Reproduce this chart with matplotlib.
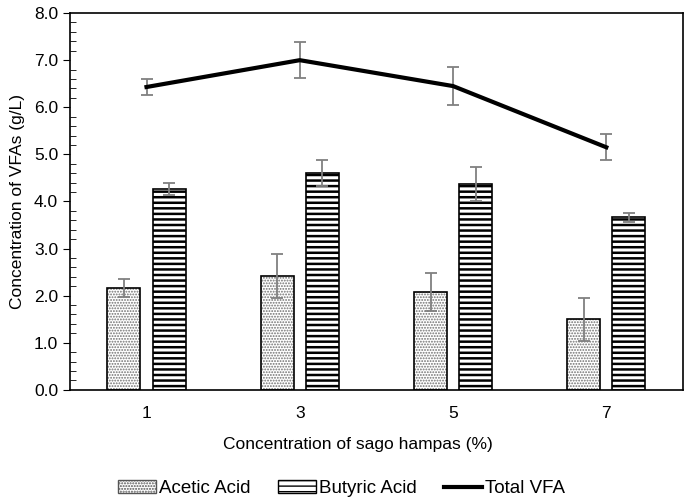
import matplotlib.pyplot as plt
import numpy as np
from matplotlib.ticker import MultipleLocator, FormatStrFormatter
from matplotlib.patches import Patch
from matplotlib.lines import Line2D

# === DATA ===
concentrations = ["1", "3", "5", "7"]
acetic = [2.16, 2.42, 2.08, 1.50]
acetic_err = [0.19, 0.46, 0.40, 0.46]
butyric = [4.27, 4.60, 4.38, 3.66]
butyric_err = [0.13, 0.28, 0.36, 0.09]
total_vfa = [6.43, 7.00, 6.45, 5.15]
total_err = [0.17, 0.38, 0.40, 0.28]

plt.rcParams["font.family"] = ["Liberation Sans", "DejaVu Sans"]
plt.rcParams["font.size"] = 12.5

fig = plt.figure(figsize=(6.85, 5.03), dpi=100)
ax = fig.add_axes([0.102, 0.225, 0.895, 0.749])

x = np.arange(len(concentrations))
width = 0.215
offset = 0.147
err_kw = dict(ecolor="#808080", elinewidth=1.3, capsize=4, capthick=1.3)

# acetic: stipple drawn in gray, black outline on top
with plt.rc_context({"hatch.linewidth": 0.9}):
    ax.bar(x - offset, acetic, width, color="white", edgecolor="#707070",
           hatch="......", linewidth=0)
ax.bar(x - offset, acetic, width, yerr=acetic_err, color="none",
       edgecolor="black", linewidth=1.2, error_kw=err_kw)

with plt.rc_context({"hatch.linewidth": 1.8}):
    ax.bar(x + offset, butyric, width, yerr=butyric_err, color="white",
           edgecolor="black", hatch="---", linewidth=1.2, error_kw=err_kw)

ax.errorbar(x, total_vfa, yerr=total_err, color="black", linewidth=3,
            ecolor="#808080", elinewidth=1.3, capsize=4, capthick=1.3)

ax.set_xlim(-0.5, len(concentrations) - 0.5)
ax.set_ylim(0, 8)
ax.set_xticks(x)
ax.set_xticklabels(concentrations)
ax.tick_params(axis="x", length=0, pad=12)
ax.yaxis.set_major_locator(MultipleLocator(1.0))
ax.yaxis.set_minor_locator(MultipleLocator(0.2))
ax.yaxis.set_major_formatter(FormatStrFormatter("%.1f"))
ax.tick_params(axis="y", which="major", direction="out", length=5)
ax.tick_params(axis="y", which="minor", direction="in", length=4)

for side in ["left", "bottom", "top", "right"]:
    ax.spines[side].set_linewidth(1.2)

ax.set_xlabel("Concentration of sago hampas (%)", labelpad=8)
ax.xaxis.set_label_coords(0.47, -0.125)
ax.set_ylabel("Concentration of VFAs (g/L)", labelpad=6)

# legend handles
with plt.rc_context({"hatch.linewidth": 0.9}):
    h_acetic = Patch(facecolor="white", edgecolor="#555555", hatch="......")
with plt.rc_context({"hatch.linewidth": 1.8}):
    h_butyric = Patch(facecolor="white", edgecolor="black", hatch="---")
h_total = Line2D([], [], color="black", linewidth=3)

fig.legend([h_acetic, h_butyric, h_total],
           ["Acetic Acid", "Butyric Acid", "Total VFA"],
           loc="lower center", bbox_to_anchor=(0.4985, -0.022), ncol=3,
           frameon=False, fontsize=13.5, handlelength=2.05, handleheight=0.65,
           handletextpad=0.15, columnspacing=1.45)

fig.savefig("out.png", dpi=100)
